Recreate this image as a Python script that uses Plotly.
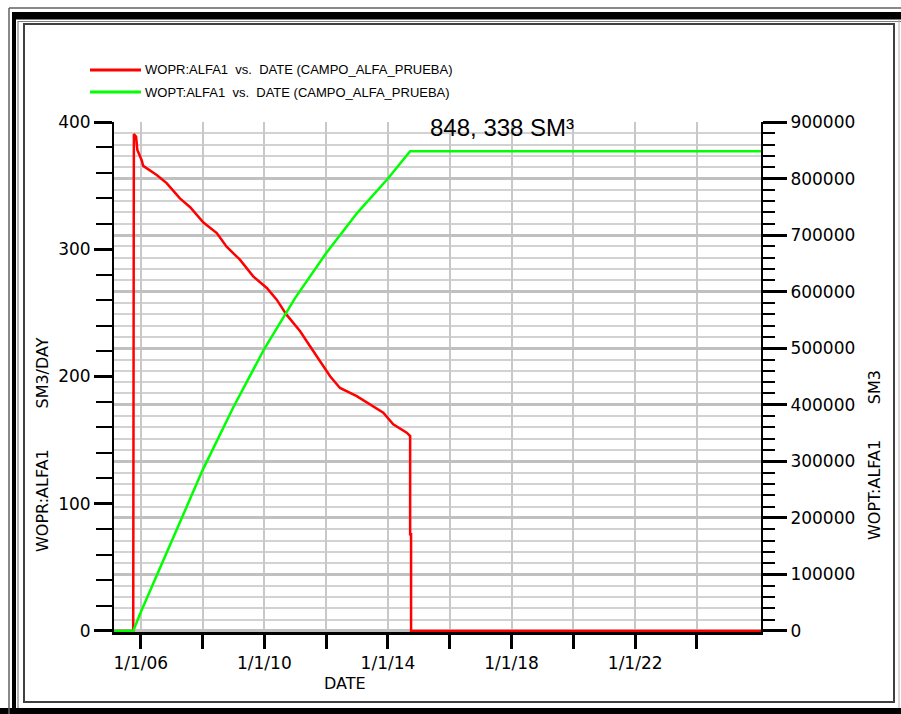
import plotly.graph_objects as go

# ---------------- data ----------------
wopr_dates = ["2005-02-19", "2005-10-04", "2005-10-12", "2005-11-07", "2005-11-22",
              "2006-01-12", "2006-01-30", "2006-04-20", "2006-07-09", "2006-11-03",
              "2007-04-09", "2007-08-08", "2008-01-12", "2008-06-18", "2008-10-12",
              "2009-03-18", "2009-08-22", "2010-01-30", "2010-05-27", "2010-09-20",
              "2011-02-28", "2011-06-25", "2011-10-20", "2012-02-17", "2012-06-13",
              "2012-12-28", "2013-11-07", "2014-03-04", "2014-08-11", "2014-09-20",
              "2014-09-20", "2014-10-01", "2014-10-01", "2026-01-27"]
wopr = [0, 0, 390.6, 388.5, 378,
        370, 365.5, 362, 358.4, 352,
        340, 333, 321, 312.7, 302,
        291.8, 278.7, 269.6, 260.4, 248.6,
        235.5, 223.8, 212, 200.2, 191,
        184.6, 171.5, 162.4, 155.8, 153.2,
        76, 76, 0, 0]

wopt_dates = ["2005-02-19", "2005-10-04", "2006-01-01", "2007-01-01", "2008-01-01",
              "2009-01-01", "2010-01-01", "2011-01-01", "2012-01-01", "2013-01-01",
              "2014-01-01", "2014-09-20", "2026-01-27"]
wopt = [0, 0, 33000, 160000, 284000,
        396000, 499000, 589000, 668000, 739000,
        800000, 848338, 848338]

x_tickvals = ["2006-01-01", "2008-01-01", "2010-01-01", "2012-01-01", "2014-01-01",
              "2016-01-01", "2018-01-01", "2020-01-01", "2022-01-01", "2024-01-01"]
x_ticktext = ["1/1/06", "", "1/1/10", "", "1/1/14", "", "1/1/18", "", "1/1/22", ""]

y1_tickvals = [0, 100, 200, 300, 400]
y2_tickvals = [0, 100000, 200000, 300000, 400000, 500000, 600000, 700000, 800000, 900000]
y2_ticktext = ["0", "100000", "200000", "300000", "400000", "500000",
               "600000", "700000", "800000", "900000"]

legend_labels = ["WOPR:ALFA1\u00a0\u00a0vs.\u00a0\u00a0DATE\u00a0(CAMPO_ALFA_PRUEBA)",
                 "WOPT:ALFA1\u00a0\u00a0vs.\u00a0\u00a0DATE\u00a0(CAMPO_ALFA_PRUEBA)"]
annotation_text = "848, 338 SM\u00b3"

# ---------------- layout geometry ----------------
W, H = 901, 714
L, R, T, B = 114, 140, 122, 82
PW, PH = W - L - R, H - T - B


def px(x):
    return (x - L) / PW


def py(y):
    return (H - B - y) / PH


RED = "#ff0000"
GREEN = "#00ff00"
FONT = "DejaVu Sans"

fig = go.Figure()
fig.add_trace(go.Scatter(x=wopr_dates, y=wopr, mode="lines", yaxis="y",
                         line=dict(color=RED, width=2.5), showlegend=False))
fig.add_trace(go.Scatter(x=wopt_dates, y=wopt, mode="lines", yaxis="y2",
                         line=dict(color=GREEN, width=2.5), showlegend=False))

fig.update_layout(
    width=W, height=H,
    margin=dict(l=L, r=R, t=T, b=B, pad=0),
    paper_bgcolor="white", plot_bgcolor="white",
    showlegend=False,
    xaxis=dict(
        type="date", range=["2005-02-19", "2026-01-27"],
        tickmode="array", tickvals=x_tickvals, ticktext=x_ticktext,
        ticks="outside", ticklen=14, tickwidth=2.5, tickcolor="black",
        showgrid=True, gridcolor="#c8c8c8", gridwidth=2,
        showline=True, linecolor="black", linewidth=3,
        zeroline=False, layer="below traces",
        tickfont=dict(family=FONT, size=17, color="black"),
    ),
    yaxis=dict(
        range=[-0.8, 400], tickmode="array", tickvals=y1_tickvals,
        ticks="outside", ticklen=18, tickwidth=3, tickcolor="black",
        minor=dict(tickvals=[20, 40, 60, 80, 120, 140, 160, 180, 220, 240, 260, 280,
                             320, 340, 360, 380],
                   ticks="outside", ticklen=16, tickwidth=1.5, tickcolor="black",
                   showgrid=False),
        showgrid=False, zeroline=False,
        showline=True, linecolor="black", linewidth=2, layer="below traces",
        tickfont=dict(family=FONT, size=17, color="black"),
    ),
    yaxis2=dict(
        overlaying="y", side="right",
        range=[-1800, 900000], tickmode="array",
        tickvals=y2_tickvals, ticktext=y2_ticktext,
        ticks="outside", ticklen=24, tickwidth=3, tickcolor="black",
        minor=dict(dtick=20000, tick0=0, ticks="outside", ticklen=12, tickwidth=2,
                   tickcolor="black", showgrid=True, gridcolor="#d2d2d2", gridwidth=1.5),
        showgrid=True, gridcolor="#c0c0c0", gridwidth=2.5,
        zeroline=False, showline=True, linecolor="black", linewidth=2,
        layer="below traces",
        tickfont=dict(family=FONT, size=17, color="black"),
    ),
)

shapes = []
# frame (double border)
shapes.append(dict(type="rect", xref="paper", yref="paper", x0=px(12), x1=px(901), y0=py(12), y1=py(19.5),
                   fillcolor="black", line=dict(width=0)))
shapes.append(dict(type="rect", xref="paper", yref="paper", x0=px(12), x1=px(16), y0=py(12), y1=py(714),
                   fillcolor="black", line=dict(width=0)))
shapes.append(dict(type="rect", xref="paper", yref="paper", x0=px(0), x1=px(901), y0=py(708), y1=py(714),
                   fillcolor="black", line=dict(width=0)))
shapes.append(dict(type="line", xref="paper", yref="paper", x0=px(9), x1=px(9), y0=py(8), y1=py(714),
                   line=dict(color="#606060", width=1.5)))
shapes.append(dict(type="line", xref="paper", yref="paper", x0=px(9), x1=px(901), y0=py(8), y1=py(8),
                   line=dict(color="#606060", width=1.5)))
shapes.append(dict(type="line", xref="paper", yref="paper", x0=px(18), x1=px(18), y0=py(21), y1=py(708),
                   line=dict(color="#808080", width=1.2)))
shapes.append(dict(type="line", xref="paper", yref="paper", x0=px(18), x1=px(901), y0=py(21.5), y1=py(21.5),
                   line=dict(color="#808080", width=1.2)))
shapes.append(dict(type="rect", xref="paper", yref="paper", x0=px(24), x1=px(894), y0=py(24), y1=py(702),
                   line=dict(color="#404040", width=2)))
shapes.append(dict(type="line", xref="paper", yref="paper", x0=px(899), x1=px(899), y0=py(20), y1=py(708),
                   line=dict(color="#b0b0b0", width=1)))
# legend samples
for yy, col in [(70, RED), (92, GREEN)]:
    shapes.append(dict(type="line", xref="paper", yref="paper", x0=px(90), x1=px(141), y0=py(yy), y1=py(yy),
                       line=dict(color=col, width=3)))
fig.update_layout(shapes=shapes)

annotations = []
for yy, txt in [(70, legend_labels[0]), (92, legend_labels[1])]:
    annotations.append(dict(xref="paper", yref="paper", x=px(143), y=py(yy), text=txt, showarrow=False,
                            xanchor="left", yanchor="middle",
                            font=dict(family="Liberation Sans", size=13, color="black")))
annotations.append(dict(xref="paper", yref="paper", x=px(502), y=py(128), text=annotation_text,
                        showarrow=False, xanchor="center", yanchor="middle",
                        font=dict(family="Liberation Sans", size=24, color="black")))
annotations.append(dict(xref="paper", yref="paper", x=px(42), y=py(445),
                        text="WOPR:ALFA1" + "\u00a0" * 8 + "SM3/DAY", textangle=-90,
                        showarrow=False, xanchor="center", yanchor="middle",
                        font=dict(family=FONT, size=16, color="black")))
annotations.append(dict(xref="paper", yref="paper", x=px(874), y=py(455),
                        text="WOPT:ALFA1" + "\u00a0" * 7 + "SM3", textangle=-90,
                        showarrow=False, xanchor="center", yanchor="middle",
                        font=dict(family=FONT, size=16, color="black")))
annotations.append(dict(xref="paper", yref="paper", x=px(345), y=py(683), text="DATE",
                        showarrow=False, xanchor="center", yanchor="middle",
                        font=dict(family=FONT, size=16, color="black")))
fig.update_layout(annotations=annotations)

fig.write_html("out.html", config={"displayModeBar": False},
               post_script="document.body.style.margin='0';document.body.style.overflow='hidden';")
